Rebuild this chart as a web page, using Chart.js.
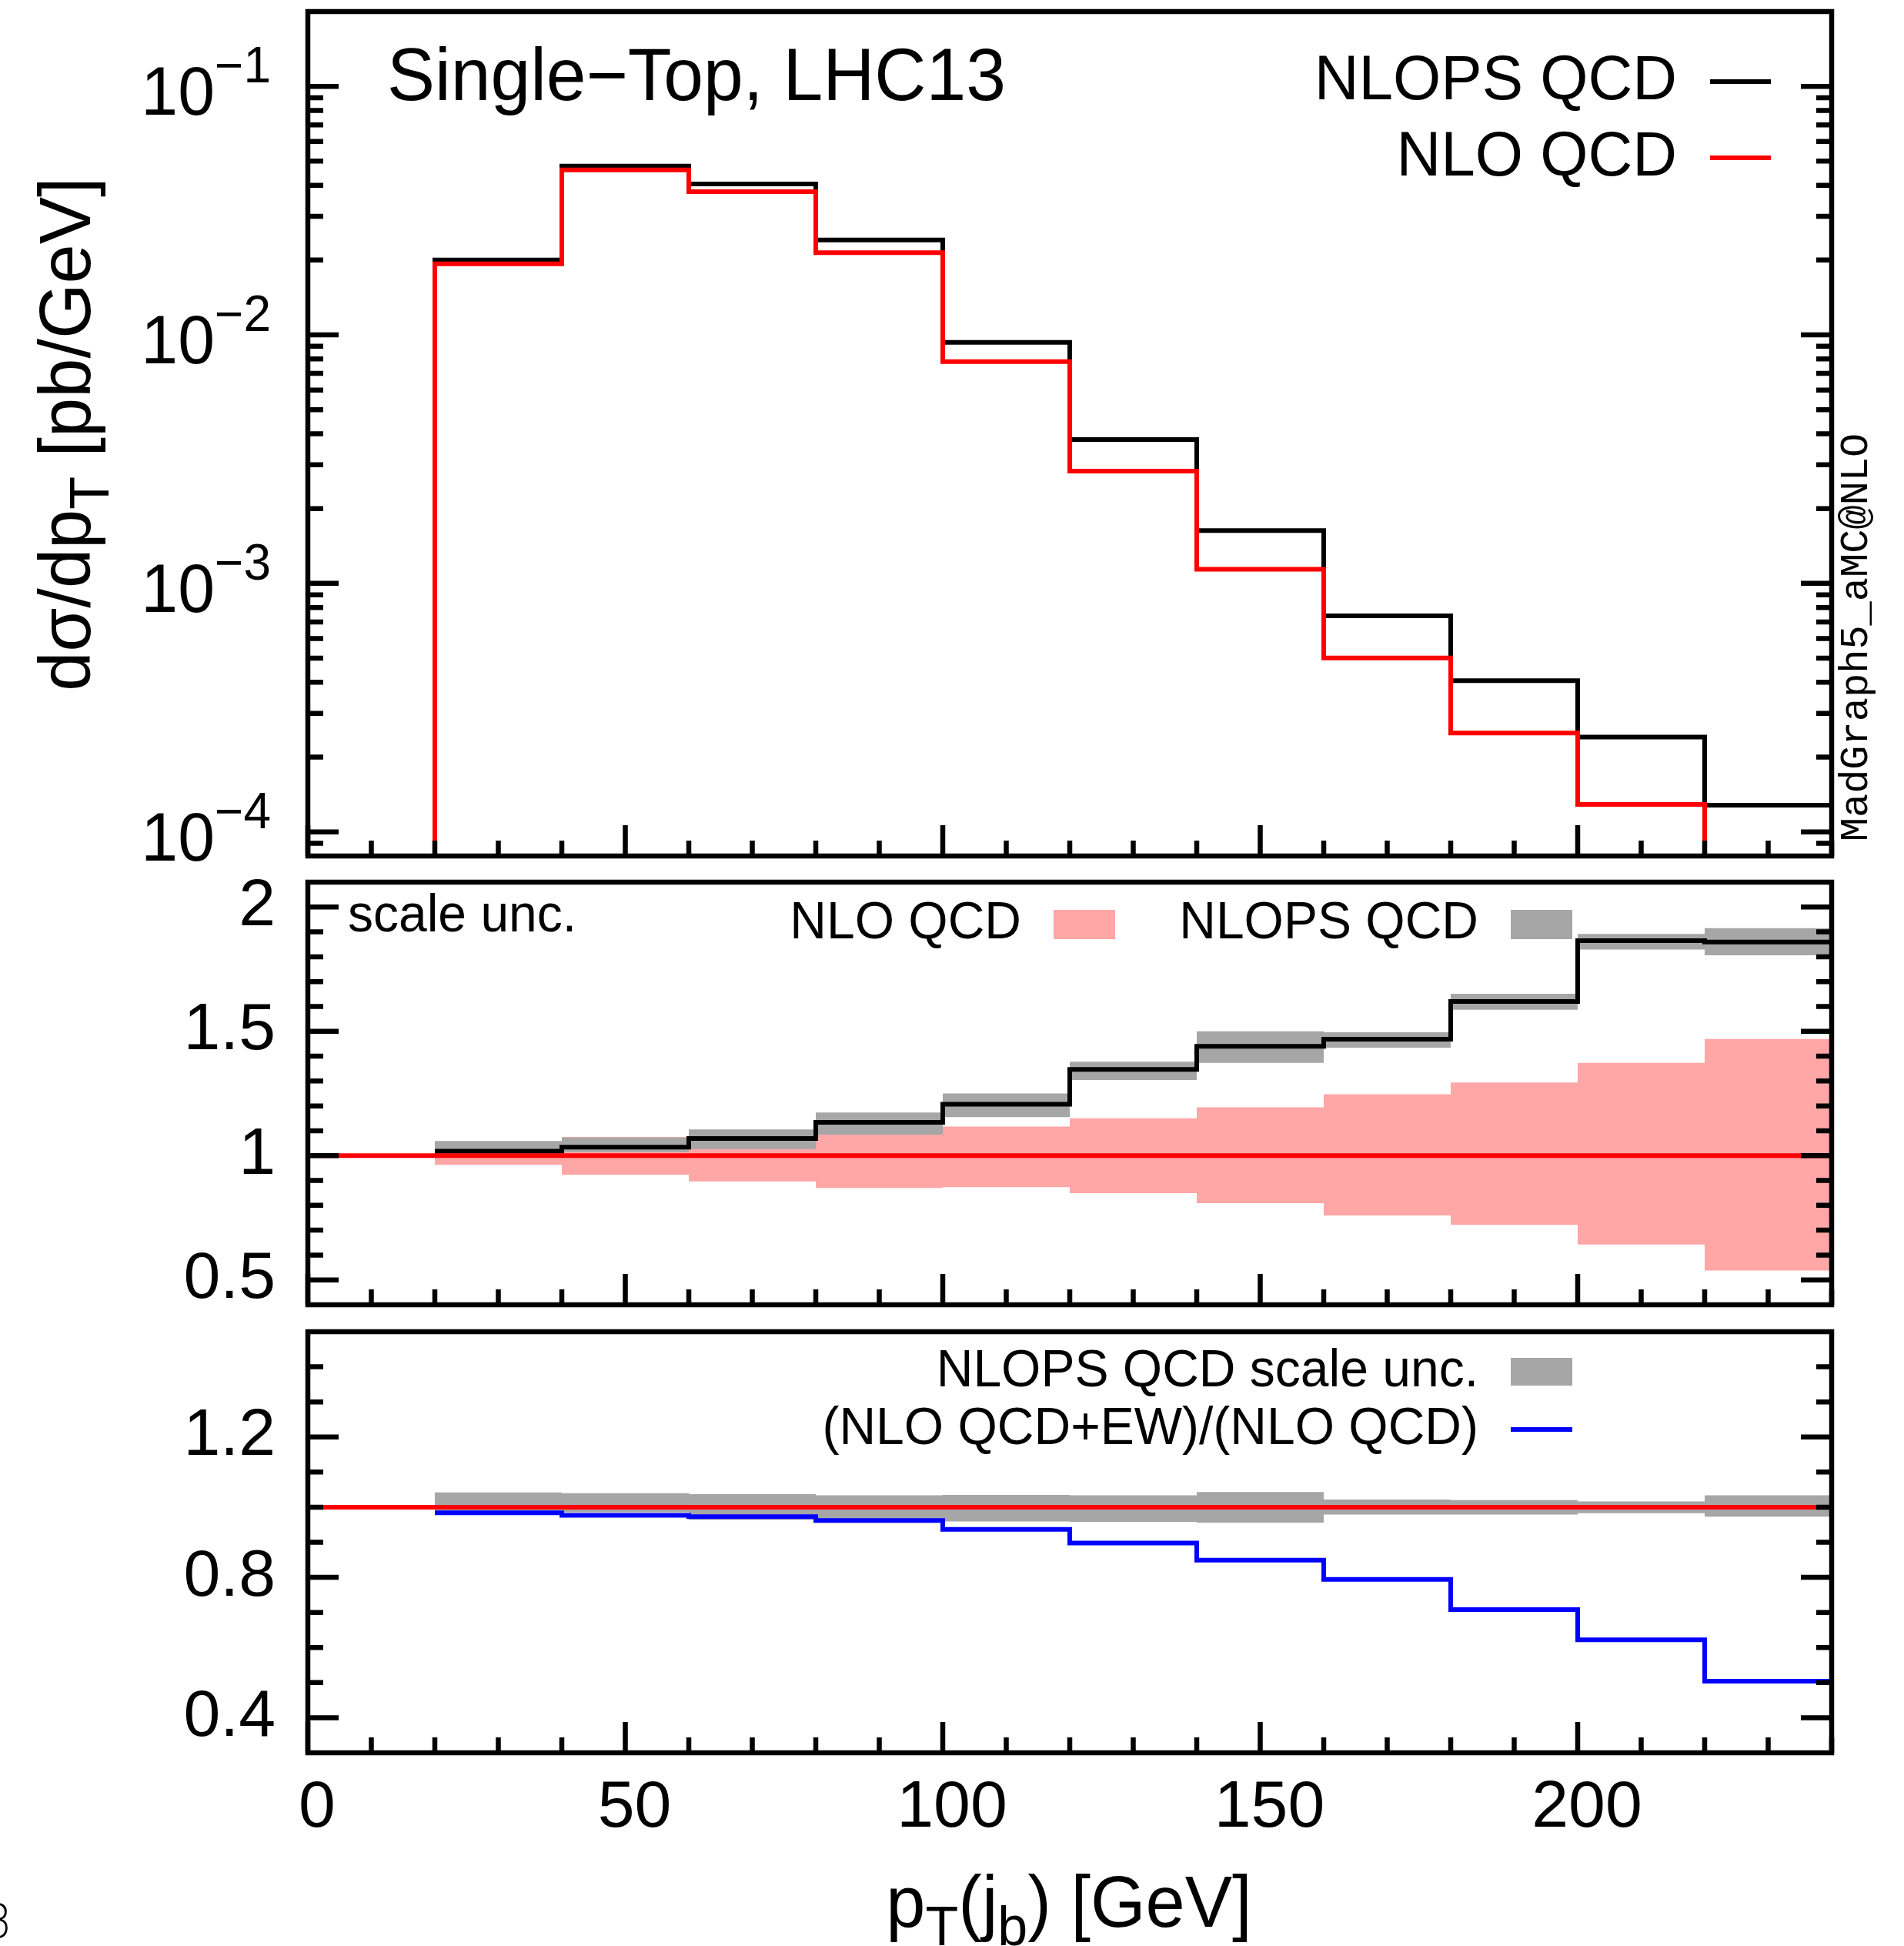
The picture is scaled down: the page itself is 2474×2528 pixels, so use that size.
<!DOCTYPE html>
<html>
<head>
<meta charset="utf-8">
<script src="https://cdn.jsdelivr.net/npm/chart.js@4.4.1/dist/chart.umd.min.js"></script>
<style>
  html, body { margin: 0; padding: 0; background: #fff; }
  .wrap { position: relative; width: 2474px; height: 2528px; }
  canvas { position: absolute; left: 0; top: 0; }
</style>
</head>
<body>
<div class="wrap">
  <canvas id="cTop" width="2474" height="2528"></canvas>
  <canvas id="cMid" width="2474" height="2528"></canvas>
  <canvas id="cBot" width="2474" height="2528"></canvas>
</div>
<script>
// --- data (bins of 20 GeV in pT(jb)) ---
const binEdges = [0, 20, 40, 60, 80, 100, 120, 140, 160, 180, 200, 220, 240];
const EMPTY = 1e-9; // bin with no entry, falls below the log axis

// top panel: dsigma/dpT [pb/GeV]
const nlopsQcd = [EMPTY, 0.0200, 0.0478, 0.0405, 0.0241, 0.00933, 0.00379, 0.00163, 7.41e-4, 4.06e-4, 2.41e-4, 1.28e-4];
const nloQcd   = [EMPTY, 0.0193, 0.0461, 0.0377, 0.0214, 0.00780, 0.00283, 0.00114, 5.01e-4, 2.50e-4, 1.29e-4, EMPTY];

// middle panel: ratios to NLO QCD, scale uncertainty bands
const nloRef      = [1, 1, 1, 1, 1, 1, 1, 1, 1, 1, 1, 1];
const nlopsRatio  = [null, 1.018, 1.034, 1.069, 1.134, 1.207, 1.347, 1.440, 1.468, 1.620, 1.865, 1.859];
const nlopsBandLo = [null, 0.995, 1.014, 1.026, 1.084, 1.155, 1.304, 1.373, 1.434, 1.587, 1.829, 1.806];
const nlopsBandHi = [null, 1.059, 1.073, 1.105, 1.173, 1.250, 1.378, 1.500, 1.496, 1.651, 1.892, 1.915];
const nloBandLo   = [null, 0.963, 0.923, 0.896, 0.870, 0.873, 0.849, 0.809, 0.759, 0.722, 0.642, 0.538];
const nloBandHi   = [null, 1.035, 1.075, 1.090, 1.110, 1.117, 1.150, 1.194, 1.247, 1.294, 1.373, 1.469];

// bottom panel: EW correction and NLOPS scale unc.
const ewRatio   = [null, 0.984, 0.977, 0.973, 0.962, 0.937, 0.898, 0.849, 0.794, 0.708, 0.622, 0.504];
const psUncLo   = [null, 0.985, 0.985, 0.964, 0.956, 0.959, 0.958, 0.956, 0.979, 0.979, 0.983, 0.973];
const psUncHi   = [null, 1.042, 1.040, 1.037, 1.034, 1.035, 1.034, 1.043, 1.022, 1.020, 1.016, 1.034];

// ticks
const xMajorTicks = [0, 50, 100, 150, 200];
const xTickLabels = ['0', '50', '100', '150', '200'];
const topDecades = [-1, -2, -3, -4];
const midTicks = [0.5, 1, 1.5, 2];
const midTickLabels = ['0.5', '1', '1.5', '2'];
const botTicks = [0.4, 0.8, 1.2];
const botTickLabels = ['0.4', '0.8', '1.2'];

// --- style ---
const FONT = '"Liberation Sans", Arial, Helvetica, sans-serif';
const SY = 1.03;         // glyphs in the original are a touch taller than wide
const LW = 6;            // data line width
const FW = 6.5;          // frame / tick width
const TICKFONT = 86;
const RED = '#ff0000', BLUE = '#0000ff', GRAY = '#a6a6a6', PINK = '#ffa6a6';

function stepPoints(vals) {
  const pts = vals.map((v, i) => ({ x: binEdges[i], y: v }));
  pts.push({ x: binEdges[binEdges.length - 1], y: vals[vals.length - 1] });
  return pts;
}
function stepLine(vals, color, order) {
  return { data: stepPoints(vals), borderColor: color, borderWidth: LW, stepped: 'before',
           fill: false, pointRadius: 0, order: order, borderCapStyle: 'butt', borderJoinStyle: 'miter' };
}
function band(lo, hi, color, order) {
  return [
    { data: stepPoints(lo), borderColor: 'rgba(0,0,0,0)', borderWidth: 1, stepped: 'before', fill: false, pointRadius: 0, order: order },
    { data: stepPoints(hi), borderColor: 'rgba(0,0,0,0)', borderWidth: 1, stepped: 'before', fill: '-1', backgroundColor: color, pointRadius: 0, order: order }
  ];
}

function text(ctx, s, x, y, size, align, opt) {
  opt = opt || {};
  ctx.save();
  ctx.font = (opt.weight ? opt.weight + ' ' : '') + size + 'px ' + (opt.family || FONT);
  ctx.fillStyle = '#000';
  ctx.textAlign = align || 'left';
  ctx.textBaseline = opt.baseline || 'alphabetic';
  ctx.translate(x, y);
  if (opt.rot) ctx.rotate(opt.rot);
  ctx.scale(1, opt.sy || SY);
  ctx.fillText(s, 0, 0);
  ctx.restore();
}

// text made of pieces (sub/superscripts), baseline at y
function rich(ctx, parts, x, y, align, rot) {
  ctx.save();
  ctx.translate(x, y);
  if (rot) ctx.rotate(rot);
  const widths = parts.map(p => { ctx.font = p.size + 'px ' + FONT; return ctx.measureText(p.t).width; });
  const total = widths.reduce((a, b) => a + b, 0);
  let cx = align === 'center' ? -total / 2 : (align === 'right' ? -total : 0);
  ctx.fillStyle = '#000';
  ctx.textAlign = 'left';
  ctx.textBaseline = 'alphabetic';
  parts.forEach((p, i) => {
    ctx.font = p.size + 'px ' + FONT;
    ctx.save();
    ctx.translate(cx, p.dy || 0);
    ctx.scale(1, SY);
    ctx.fillText(p.t, 0, 0);
    ctx.restore();
    cx += widths[i];
  });
  ctx.restore();
}

function hline(ctx, x0, x1, y, color) {
  ctx.save();
  ctx.strokeStyle = color; ctx.lineWidth = LW; ctx.lineCap = 'butt';
  ctx.beginPath(); ctx.moveTo(x0, y); ctx.lineTo(x1, y); ctx.stroke();
  ctx.restore();
}

// ticks pointing inwards on left, right and bottom, plus the frame
function drawFrame(chart, yMajor, yMinor) {
  const { ctx, chartArea: a, scales: { x, y } } = chart;
  ctx.save();
  ctx.strokeStyle = '#000';
  ctx.lineWidth = FW;
  ctx.lineCap = 'butt';
  ctx.beginPath();
  for (let v = 0; v <= 240; v += 10) {
    const px = x.getPixelForValue(v);
    const len = xMajorTicks.includes(v) ? 40 : 20;
    ctx.moveTo(px, a.bottom); ctx.lineTo(px, a.bottom - len);
  }
  const yt = (v, len) => {
    const py = y.getPixelForValue(v);
    if (py < a.top + 2 || py > a.bottom - 2) return;
    ctx.moveTo(a.left, py); ctx.lineTo(a.left + len, py);
    ctx.moveTo(a.right, py); ctx.lineTo(a.right - len, py);
  };
  yMajor.forEach(v => yt(v, 40));
  yMinor.forEach(v => yt(v, 20));
  ctx.stroke();
  ctx.strokeRect(a.left, a.top, a.right - a.left, a.bottom - a.top);
  ctx.restore();
}

function makeChart(id, pad, yScale, datasets, decorate) {
  return new Chart(document.getElementById(id), {
    type: 'line',
    data: { datasets: datasets },
    options: {
      responsive: false,
      animation: false,
      events: [],
      devicePixelRatio: 1,
      layout: { padding: pad },
      scales: {
        x: { type: 'linear', min: 0, max: 240, display: false },
        y: Object.assign({ display: false }, yScale)
      },
      plugins: { legend: { display: false }, tooltip: { enabled: false } }
    },
    plugins: [{ id: 'decor', afterDraw: decorate }]
  });
}

// ---------- top panel ----------
const topMinor = [];
[-4, -3, -2].forEach(d => { for (let m = 2; m <= 9; m++) topMinor.push(m * Math.pow(10, d)); });
topMinor.push(9e-5);

makeChart('cTop', { left: 400, right: 94, top: 15, bottom: 2528 - 1112 },
  { type: 'logarithmic', min: 8e-5, max: 0.2 },
  [stepLine(nloQcd, RED, 0), stepLine(nlopsQcd, '#000', 1)],
  function (chart) {
    const ctx = chart.ctx, y = chart.scales.y;
    drawFrame(chart, topDecades.map(d => Math.pow(10, d)), topMinor);
    topDecades.forEach(d => {
      const py = y.getPixelForValue(Math.pow(10, d));
      rich(ctx, [{ t: '10', size: TICKFONT }, { t: '\u2212' + (-d), size: 64, dy: -42 }], 352, py + 37, 'right');
    });
    text(ctx, 'Single\u2212Top, LHC13', 503, 130, 93);
    text(ctx, 'NLOPS QCD', 2179, 106, 80, 'right', { baseline: 'middle' });
    text(ctx, 'NLO QCD', 2179, 205, 80, 'right', { baseline: 'middle' });
    hline(ctx, 2222, 2301, 106, '#000');
    hline(ctx, 2222, 2301, 205, RED);
    rich(ctx, [{ t: 'd\u03c3/dp', size: 92 }, { t: 'T', size: 70, dy: 24 }, { t: ' [pb/GeV]', size: 92 }],
      117, 564, 'center', -Math.PI / 2);
    text(ctx, 'MadGraph5_aMC@NLO', 2426, 828, 52, 'center',
      { rot: -Math.PI / 2, family: '"Liberation Mono", "DejaVu Sans Mono", monospace', sy: 1 });
  });

// ---------- middle panel ----------
const midMinor = [];
for (let v = 0.5; v <= 2.05; v += 0.1) midMinor.push(+v.toFixed(1));

makeChart('cMid', { left: 400, right: 94, top: 1146, bottom: 2528 - 1695 },
  { type: 'linear', min: 0.4, max: 2.1 },
  [stepLine(nloRef, RED, 0), stepLine(nlopsRatio, '#000', 1)]
    .concat(band(nlopsBandLo, nlopsBandHi, GRAY, 2))
    .concat(band(nloBandLo, nloBandHi, PINK, 3)),
  function (chart) {
    const ctx = chart.ctx, y = chart.scales.y;
    drawFrame(chart, midTicks, midMinor.filter(v => !midTicks.includes(v)));
    midTicks.forEach((v, i) => text(ctx, midTickLabels[i], 358, y.getPixelForValue(v), TICKFONT, 'right', { baseline: 'middle', sy: 1 }));
    text(ctx, 'scale unc.', 452, 1210, 66);
    text(ctx, 'NLO QCD', 1327, 1200, 66, 'right', { baseline: 'middle' });
    text(ctx, 'NLOPS QCD', 1921, 1200, 66, 'right', { baseline: 'middle' });
    ctx.fillStyle = PINK; ctx.fillRect(1369, 1182, 80, 38);
    ctx.fillStyle = GRAY; ctx.fillRect(1963, 1182, 80, 38);
  });

// ---------- bottom panel ----------
const botMinor = [];
for (let v = 0.4; v <= 1.45; v += 0.1) botMinor.push(+v.toFixed(1));

makeChart('cBot', { left: 400, right: 94, top: 1730, bottom: 2528 - 2277 },
  { type: 'linear', min: 0.3, max: 1.5 },
  [stepLine(nloRef, RED, 0), stepLine(ewRatio, BLUE, 1)]
    .concat(band(psUncLo, psUncHi, GRAY, 2)),
  function (chart) {
    const ctx = chart.ctx, x = chart.scales.x, y = chart.scales.y;
    drawFrame(chart, botTicks, botMinor.filter(v => !botTicks.includes(v)));
    botTicks.forEach((v, i) => text(ctx, botTickLabels[i], 358, y.getPixelForValue(v), TICKFONT, 'right', { baseline: 'middle', sy: 1 }));
    xMajorTicks.forEach((v, i) => text(ctx, xTickLabels[i], x.getPixelForValue(v) + 12, 2349, TICKFONT, 'center', { baseline: 'middle', sy: 1 }));
    text(ctx, 'NLOPS QCD scale unc.', 1921, 1782, 66, 'right', { baseline: 'middle' });
    text(ctx, '(NLO QCD+EW)/(NLO QCD)', 1921, 1857, 66, 'right', { baseline: 'middle' });
    ctx.fillStyle = GRAY; ctx.fillRect(1963, 1764, 80, 36);
    hline(ctx, 1963, 2043, 1857, BLUE);
    rich(ctx, [{ t: 'p', size: 92 }, { t: 'T', size: 70, dy: 24 }, { t: '(j', size: 92 }, { t: 'b', size: 70, dy: 24 }, { t: ') [GeV]', size: 92 }],
      1389, 2503, 'center');
    text(ctx, '3', 16, 2517, 58, 'right', { family: '"DejaVu Sans", sans-serif', weight: '200' });
  });
</script>
</body>
</html>
